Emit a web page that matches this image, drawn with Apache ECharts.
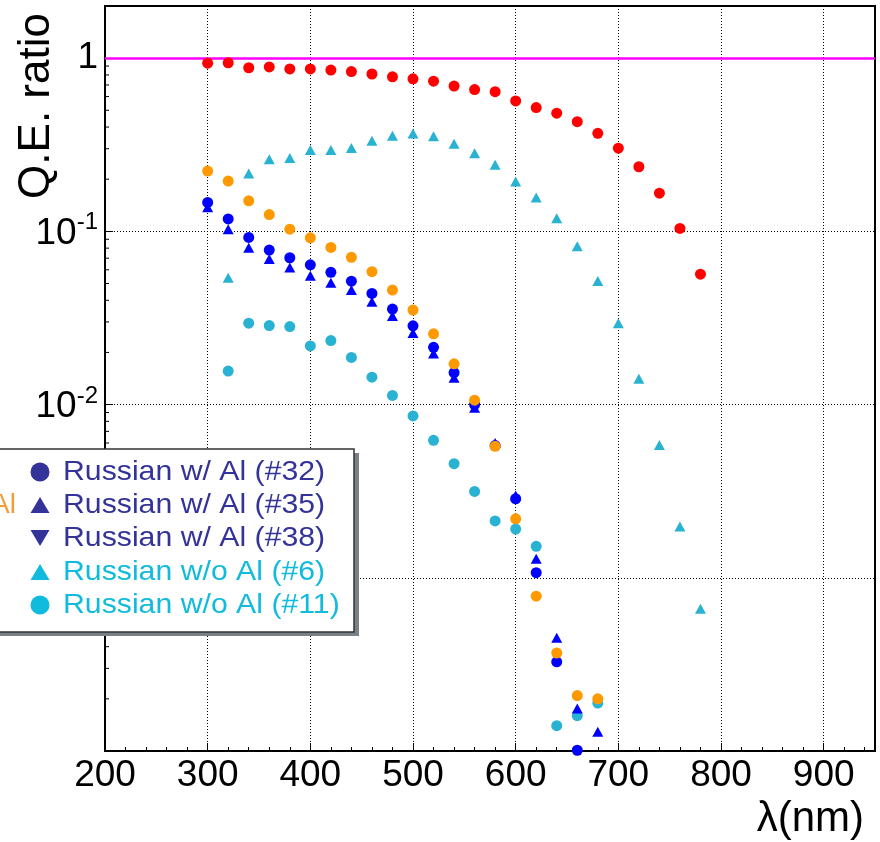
<!DOCTYPE html>
<html>
<head>
<meta charset="utf-8">
<script src="https://cdn.jsdelivr.net/npm/echarts@6/dist/echarts.min.js"></script>
<style>
html,body{margin:0;padding:0;background:#fff;}
#chart{width:880px;height:842px;}
</style>
</head>
<body>
<div id="chart"></div>
<script>
// ---- data ----
const wlRed = [300,320,340,360,380,400,420,440,460,480,500,520,540,560,580,600,620,640,660,680,700,720,740,760,780];
const qeRed = [0.935,0.94,0.88,0.89,0.867,0.867,0.853,0.837,0.81,0.78,0.76,0.736,0.69,0.659,0.64,0.566,0.518,0.481,0.43,0.368,0.302,0.236,0.166,0.104,0.0566];

const wlOrange = [300,320,340,360,380,400,420,440,460,480,500,520,540,560,580,600,620,640,660,680];
const qeOrange = [0.223,0.195,0.150,0.125,0.103,0.0918,0.0808,0.0708,0.0585,0.0458,0.0351,0.0256,0.0172,0.0106,0.00574,0.00219,0.000783,0.000368,0.000209,0.000200];

const wl32 = [300,320,340,360,380,400,420,440,460,480,500,520,540,560,580,600,620,640,660];
const qe32 = [0.147,0.118,0.0923,0.078,0.0704,0.0641,0.058,0.0516,0.0438,0.0356,0.0285,0.0214,0.0153,0.0100,0.0058,0.00286,0.00107,0.000327,0.000101];

const wl35 = [300,320,340,360,380,400,420,440,460,480,500,520,540,560,580,600,620,640,660,680];
const qe35 = [0.138,0.103,0.0804,0.0692,0.0619,0.0554,0.0505,0.0458,0.0392,0.0325,0.0259,0.0197,0.0143,0.0096,0.0060,0.00299,0.00129,0.00045,0.000176,0.000129];

const wl38 = [];
const qe38 = [];

const wl6 = [320,340,360,380,400,420,440,460,480,500,520,540,560,580,600,620,640,660,680,700,720,740,760,780];
const qe6 = [0.054,0.216,0.261,0.265,0.295,0.295,0.303,0.333,0.356,0.367,0.354,0.32,0.282,0.242,0.194,0.157,0.119,0.082,0.0517,0.0295,0.0141,0.00585,0.00198,0.000662];

const wl11 = [320,340,360,380,400,420,440,460,480,500,520,540,560,580,600,620,640,660,680];
const qe11 = [0.0156,0.0295,0.0286,0.0282,0.0218,0.0234,0.0187,0.0144,0.0113,0.0086,0.00622,0.00456,0.00315,0.00213,0.00191,0.00152,0.00014,0.00016,0.000189];

const xTickLabels = ['200','300','400','500','600','700','800','900'];
const yTickLabels = {'1':'1','0.1':'{b|10}{s|-1}','0.01':'{b|10}{s|-2}','0.001':'{b|10}{s|-3}'};
const legendLabels = ['Russian w/ Al (#32)','Russian w/ Al (#35)','Russian w/ Al (#38)','Russian w/o Al (#6)','Russian w/o Al (#11)'];
const refLine = 1;

const FONT = 'Liberation Sans, Arial, Helvetica, sans-serif';
const zip = (a, b) => a.map((v, i) => [v, b[i]]);

// minor tick positions on the log axis (axis decoration)
const minorY = [];
[1e-4, 1e-3, 1e-2, 1e-1, 1].forEach(d => {
  for (let k = 2; k <= 9; k++) { const v = +(k * d).toPrecision(3); if (v <= 2) minorY.push([200, v]); }
});

const chart = echarts.init(document.getElementById('chart'), null, {renderer: 'canvas'});

const triUp = (cx, cy, w, h, fill) => ({type:'polygon', shape:{points:[[cx, cy - h/2],[cx + w/2, cy + h/2],[cx - w/2, cy + h/2]]}, style:{fill}});
const triDown = (cx, cy, w, h, fill) => ({type:'polygon', shape:{points:[[cx, cy + h/2],[cx + w/2, cy - h/2],[cx - w/2, cy - h/2]]}, style:{fill}});

const legTop = 449, legRight = 354, legBottom = 632;
const rows = [472, 505, 538, 572, 605];
const dark = '#333399', cyanTxt = '#11bbdd';
const legendEls = [
  {type:'rect', shape:{x:-20, y:legTop + 4, width:legRight + 25, height:legBottom - legTop}, style:{fill:'#788088'}, z:100},
  {type:'rect', shape:{x:-20, y:legTop, width:legRight + 20, height:legBottom - legTop}, style:{fill:'#fff', stroke:'#333', lineWidth:1.5}, z:101},
  {type:'text', x:16, y:rows[1], style:{text:'w/ Al', fill:'#f39c38', font:'28px ' + FONT, align:'right', verticalAlign:'middle'}, z:102},
  {type:'circle', shape:{cx:40, cy:rows[0], r:9.5}, style:{fill:dark}, z:102},
  Object.assign(triUp(40, rows[1], 19, 16, dark), {z:102}),
  Object.assign(triDown(40, rows[2], 19, 16, dark), {z:102}),
  Object.assign(triUp(40, rows[3], 19, 16, cyanTxt), {z:102}),
  {type:'circle', shape:{cx:40, cy:rows[4], r:9.5}, style:{fill:cyanTxt}, z:102}
];
legendLabels.forEach((t, i) => {
  legendEls.push({type:'text', x:63, y:rows[i], scaleX:1.08, style:{text:t, fill: i < 3 ? dark : cyanTxt, font:'28px ' + FONT, align:'left', verticalAlign:'middle'}, z:102});
});

const option = {
  animation: false,
  backgroundColor: '#fff',
  grid: {left:105, right:5, top:6, bottom:91, show:true, borderColor:'#000', borderWidth:2, backgroundColor:'transparent'},
  xAxis: {
    type:'value', min:200, max:950, interval:100,
    axisLine:{show:true, onZero:false, lineStyle:{color:'#000', width:2}},
    axisTick:{show:true, inside:true, length:8, lineStyle:{color:'#000', width:1}},
    minorTick:{show:true, splitNumber:5, length:4, lineStyle:{color:'#000', width:1}},
    splitLine:{show:true, lineStyle:{color:'#000', width:1, type:[1,2]}},
    axisLabel:{fontSize:37, fontFamily:FONT, color:'#000', margin:6,
      formatter: v => xTickLabels.indexOf(String(v)) >= 0 ? String(v) : ''}
  },
  yAxis: {
    type:'log', logBase:10, min:1e-4, max:2,
    axisLine:{show:true, onZero:false, lineStyle:{color:'#000', width:2}},
    axisTick:{show:true, inside:true, length:8, lineStyle:{color:'#000', width:1}},
    splitLine:{show:true, lineStyle:{color:'#000', width:1, type:[1,2]}},
    axisLabel:{color:'#000', margin:7, fontFamily:FONT,
      formatter: v => { const key = String(+v.toPrecision(3)); return yTickLabels[key] || ''; },
      rich:{
        b:{fontSize:37, fontFamily:FONT, color:'#000', verticalAlign:'bottom'},
        s:{fontSize:24, fontFamily:FONT, color:'#000', verticalAlign:'bottom', padding:[0,0,17,0]}
      },
      fontSize:37
    }
  },
  graphic: [
    {type:'text', x:37, y:106, rotation:Math.PI/2, style:{text:'Q.E. ratio', fill:'#000', font:'44px ' + FONT, align:'center', verticalAlign:'middle'}},
    {type:'text', x:864, y:819, style:{text:'λ(nm)', fill:'#000', font:'42px ' + FONT, align:'right', verticalAlign:'middle'}}
  ].concat(legendEls),
  series: [
    {type:'custom', silent:true, data:minorY, z:1,
      renderItem:(params, api) => {
        const p = api.coord([api.value(0), api.value(1)]);
        return {type:'line', shape:{x1:p[0], y1:p[1], x2:p[0] + 4, y2:p[1]}, style:{stroke:'#000', lineWidth:1}};
      }},
    {name:'Russian w/o Al (#11)', type:'scatter', data:zip(wl11, qe11), symbol:'circle', symbolSize:11, itemStyle:{color:'#2ab2d2', opacity:1}, z:3},
    {name:'Russian w/o Al (#6)', type:'scatter', data:zip(wl6, qe6), symbol:'triangle', symbolSize:[11,10], itemStyle:{color:'#2ab2d2', opacity:1}, z:3},
    {name:'Russian w/ Al (#38)', type:'scatter', data:zip(wl38, qe38), symbol:'path://M0,0 L10,0 L5,9 Z', symbolSize:[11,10], itemStyle:{color:'#0000ff', opacity:1}, z:4},
    {name:'Russian w/ Al (#35)', type:'scatter', data:zip(wl35, qe35), symbol:'triangle', symbolSize:[11,10], itemStyle:{color:'#0000ff', opacity:1}, z:4},
    {name:'Russian w/ Al (#32)', type:'scatter', data:zip(wl32, qe32), symbol:'circle', symbolSize:11, itemStyle:{color:'#0000ff', opacity:1}, z:5},
    {name:'orange', type:'scatter', data:zip(wlOrange, qeOrange), symbol:'circle', symbolSize:11, itemStyle:{color:'#ff9900', opacity:1}, z:6},
    {name:'red', type:'scatter', data:zip(wlRed, qeRed), symbol:'circle', symbolSize:11, itemStyle:{color:'#ff0000', opacity:1}, z:7,
      markLine:{silent:true, symbol:'none', label:{show:false}, data:[{yAxis:refLine}], lineStyle:{color:'#ff00ff', width:2.5, type:'solid'}}}
  ]
};
chart.setOption(option);
</script>
</body>
</html>
